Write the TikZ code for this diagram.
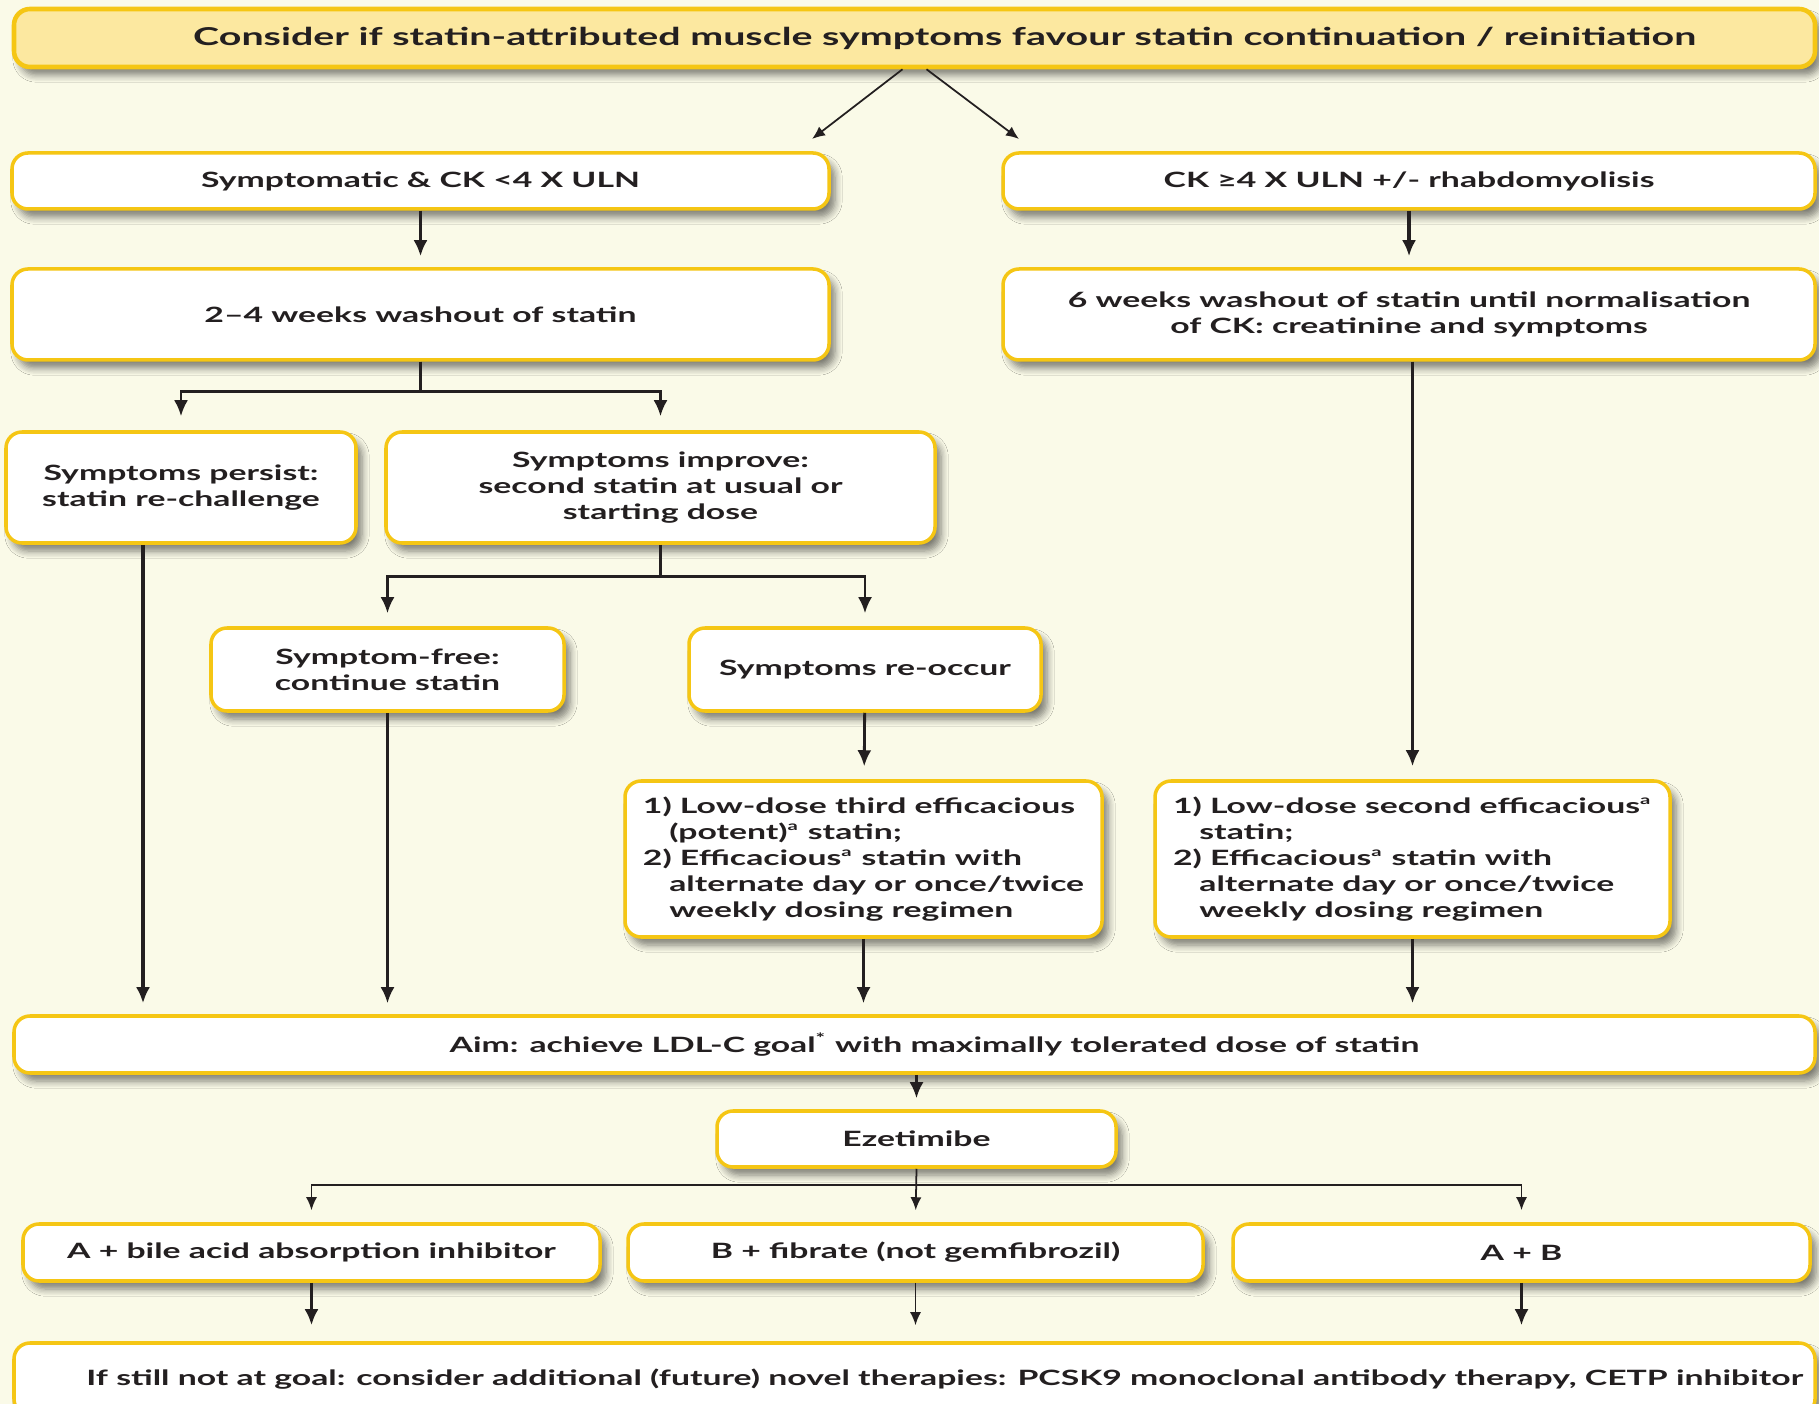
\documentclass[tikz,border=0pt]{standalone}
\usepackage{fontspec}
\setmainfont[FakeStretch=1.6]{Lato}
\usetikzlibrary{arrows.meta,shadows.blur}

\definecolor{bgcream}{RGB}{250,250,232}
\definecolor{boxgold}{RGB}{245,198,20}
\definecolor{topfill}{RGB}{252,232,160}
\definecolor{inkgray}{RGB}{35,31,32}

\newcommand{\supa}{\textsuperscript{\fontsize{3.6}{4}\selectfont a}}

\tikzset{
  box/.style={draw=boxgold, line width=1pt, fill=white, rounded corners=1.6mm,
    blur shadow={shadow xshift=0.6mm, shadow yshift=-0.8mm, shadow opacity=50, shadow blur steps=6},
    align=center, inner sep=0pt, text=inkgray, font=\bfseries\fontsize{6}{7.4}\selectfont},
  topbox/.style={box, fill=topfill, line width=1.3pt, font=\bfseries\fontsize{7}{8.4}\selectfont},
  flow/.style={-{Latex[length=1.6mm,width=1.4mm]}, line width=1.1pt, draw=inkgray},
  flowmid/.style={flow, line width=0.8pt},
  flowthin/.style={-{Latex[length=1.3mm,width=1.1mm]}, line width=0.5pt, draw=inkgray}
}

\begin{document}
\begin{tikzpicture}[x=1cm,y=-1cm]
  \fill[bgcream] (0,0) rectangle (18.19,14.04);
  \useasboundingbox (0,0) rectangle (18.19,14.04);

  % top question
  \node[topbox, minimum width=18.01cm, minimum height=0.58cm] (consider) at (9.145,0.38)
    {\hspace*{0.6cm}Consider if statin-attributed muscle symptoms favour statin continuation / reinitiation};
  \coordinate (splitL) at (8.12,1.39);
  \coordinate (splitR) at (10.19,1.39);

  % two branches
  \node[box, minimum width=8.17cm, minimum height=0.56cm] (lowck) at (4.205,1.81) {Symptomatic \& CK <4 X ULN};
  \node[box, minimum width=8.12cm, minimum height=0.56cm] (highck) at (14.09,1.81) {CK ≥4 X ULN +/- rhabdomyolisis};
  \node[box, minimum width=8.17cm, minimum height=0.91cm] (washshort) at (4.205,3.145) {2–4 weeks washout of statin};
  \node[box, minimum width=8.12cm, minimum height=0.91cm] (washlong) at (14.09,3.145)
    {6 weeks washout of statin until normalisation\\of CK: creatinine and symptoms};

  \node[box, minimum width=3.50cm, minimum height=1.11cm] (persist) at (1.81,4.875) {Symptoms persist:\\statin re-challenge};
  \node[box, minimum width=5.49cm, minimum height=1.11cm] (improve) at (6.605,4.875)
    {Symptoms improve:\\second statin at usual or\\starting dose};
  \node[box, minimum width=3.53cm, minimum height=0.83cm] (free) at (3.875,6.695) {Symptom-free:\\continue statin};
  \node[box, minimum width=3.52cm, minimum height=0.83cm] (reoccur) at (8.65,6.695) {Symptoms re-occur};

  \node[box, align=left, minimum width=4.77cm, minimum height=1.56cm] (third) at (8.635,8.59)
    {1) Low-dose third efficacious\\\hspace*{1.25em}(potent)\supa{} statin;\\
     2) Efficacious\supa{} statin with\\\hspace*{1.25em}alternate day or once/twice\\
     \hspace*{1.25em}weekly dosing regimen};
  \node[box, align=left, minimum width=5.15cm, minimum height=1.56cm] (second) at (14.125,8.59)
    {1) Low-dose second efficacious\supa\\\hspace*{1.25em}statin;\\
     2) Efficacious\supa{} statin with\\\hspace*{1.25em}alternate day or once/twice\\
     \hspace*{1.25em}weekly dosing regimen};

  % goal and add-on therapy
  \node[box, minimum width=18.01cm, minimum height=0.57cm] (aim) at (9.145,10.445)
    {\hspace*{0.4cm}Aim: achieve LDL-C goal\textsuperscript{\fontsize{4}{4}\selectfont *} with maximally tolerated dose of statin};
  \node[box, minimum width=3.99cm, minimum height=0.56cm] (ezet) at (9.165,11.39) {Ezetimibe};
  \node[box, minimum width=5.77cm, minimum height=0.57cm] (optA) at (3.115,12.525) {A + bile acid absorption inhibitor};
  \node[box, minimum width=5.75cm, minimum height=0.57cm] (optB) at (9.155,12.525) {B + fibrate (not gemfibrozil)};
  \node[box, minimum width=5.77cm, minimum height=0.57cm] (optAB) at (15.215,12.525) {A + B};
  \node[box, minimum width=18.01cm, minimum height=0.72cm] (novel) at (9.145,13.79)
    {\hspace*{0.6cm}If still not at goal: consider additional (future) novel therapies: PCSK9 monoclonal antibody therapy, CETP inhibitor};

  % connectors
  \draw[flowthin] ([xshift=-1.2mm]consider.south) -- (splitL);
  \draw[flowthin] ([xshift=1.2mm]consider.south) -- (splitR);
  \draw[flow, shorten >=1.1mm] (lowck) -- (washshort);
  \draw[flow, shorten >=1.1mm] (highck) -- (washlong);
  \draw[flowmid, shorten >=1.4mm] (washshort.south) -- ++(0,0.3) -| (persist.north);
  \draw[flowmid, shorten >=1.4mm] (washshort.south) -- ++(0,0.3) -| (improve.north);
  \draw[flowmid, shorten >=1.3mm] (improve.south) -- ++(0,0.32) -| (free.north);
  \draw[flowmid, shorten >=1.3mm] (improve.south) -- ++(0,0.32) -| (reoccur.north);
  \draw[flowmid, shorten >=1.3mm] (reoccur) -- (third);
  \draw[flow, shorten >=1.3mm] (washlong.south -| second.north) -- (second.north);

  \coordinate (persistfoot) at ([xshift=-3.8mm]persist.south);
  \draw[flow, shorten >=1.1mm] (persistfoot) -- (persistfoot |- aim.north);
  \draw[flowmid, shorten >=1.1mm] (free.south) -- (free.south |- aim.north);
  \draw[flowmid, shorten >=1.1mm] (third.south) -- (third.south |- aim.north);
  \draw[flow, shorten >=1.1mm] (second.south) -- (second.south |- aim.north);

  \draw[flowmid, shorten >=1.1mm] (aim.south -| ezet.north) -- (ezet.north);
  \draw[flowthin, shorten >=1.2mm] (ezet.south) -- ++(0,0.16) -| (optA.north);
  \draw[flowthin, shorten >=1.2mm] (ezet.south) -- (optB.north);
  \draw[flowthin, shorten >=1.2mm] (ezet.south) -- ++(0,0.16) -| (optAB.north);
  \draw[flow, shorten >=1.6mm] (optA.south) -- (optA.south |- novel.north);
  \draw[flowthin, shorten >=1.6mm] (optB.south) -- (optB.south |- novel.north);
  \draw[flowmid, shorten >=1.6mm] (optAB.south) -- (optAB.south |- novel.north);
\end{tikzpicture}
\end{document}
